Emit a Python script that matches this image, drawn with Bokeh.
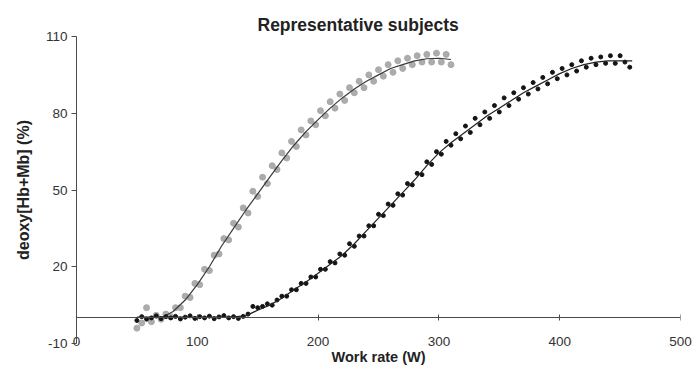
from bokeh.plotting import figure
from bokeh.models import LinearAxis, FixedTicker, Range1d, ColumnDataSource
from bokeh.embed import file_html
from bokeh.resources import INLINE

# Axis ticks
work_rate_ticks = [0, 100, 200, 300, 400, 500]
deoxy_ticks = [-10, 20, 50, 80, 110]

# Subject A (grey points) - deoxy[Hb+Mb] (%) vs work rate (W)
gray_w = [50, 54, 58, 62, 66, 70, 74, 78, 82, 86, 90, 94, 98, 102, 106, 110,
          114, 118, 122, 126, 130, 134, 138, 142, 146, 150, 154, 158, 162, 166,
          170, 174, 178, 182, 186, 190, 194, 198, 202, 206, 210, 214, 218, 222,
          226, 230, 234, 238, 242, 246, 250, 254, 258, 262, 266, 270, 274, 278,
          282, 286, 290, 294, 298, 302, 306, 310]
gray_deoxy = [-4, -2, 4, -1.5, 1, -0.5, 1.5, 0.5, 4, 4,
              8.5, 8, 13.5, 13, 19, 18.5, 24.5, 25, 31, 30.5,
              37, 35.5, 43, 41, 49.5, 47.5, 55, 52.5, 59.5, 58,
              64.5, 62.5, 69, 67, 73.5, 71.5, 77, 75.5, 81, 79,
              84.5, 82, 87.5, 85, 90, 88, 92.5, 90, 95, 92.5,
              97, 94.5, 99, 96, 100.5, 97.5, 101.5, 99, 102.5, 100,
              103, 100, 103.5, 100, 103, 99]

# Subject A fitted curve
gray_fit_w = [70, 80, 90, 100, 110, 120, 130, 140, 150, 160, 170, 180, 190,
              200, 210, 220, 230, 240, 250, 260, 270, 280, 290, 300, 310]
gray_fit = [0, 2.5, 7, 13, 20, 28, 35, 42, 48.5, 55, 61.5, 67.5, 72.8,
            77.5, 82, 86, 89.5, 92.5, 95, 97.5, 99, 100.5, 101.3, 101.5, 101]

# Subject B (black points)
black_w = [50, 54, 58, 62, 66, 70, 74, 78, 82, 86, 90, 94, 98, 102, 106, 110,
           114, 118, 122, 126, 130, 134, 138, 142, 146, 150, 154, 158, 162,
           166, 170, 174, 178, 182, 186, 190, 194, 198, 202, 206, 210, 214,
           218, 222, 226, 230, 234, 238, 242, 246, 250, 254, 258, 262, 266,
           270, 274, 278, 282, 286, 290, 294, 298, 302, 306, 310, 314, 318,
           322, 326, 330, 334, 338, 342, 346, 350, 354, 358, 362, 366, 370,
           374, 378, 382, 386, 390, 394, 398, 402, 406, 410, 414, 418, 422,
           426, 430, 434, 438, 442, 446, 450, 454, 458]
black_deoxy = [-1, 0.5, -0.5, 0, 0.8, -0.3, 0.5, 0, 0.6, -0.4,
               0.3, 0.8, -0.2, 0.5, 0, 0.7, -0.3, 0.4, 0.9, 0,
               0.5, -0.2, 0.6,
               1.5, 4.5, 4, 4.5, 5.5, 5, 7, 8.5, 8.5, 11,
               11, 13.5, 13.5, 16, 16, 19, 19, 22, 21.5, 25,
               24.5, 29, 28, 32, 32, 36, 36, 40.5, 40, 44.5,
               44, 48.5, 48, 52.5, 52, 56.5, 56, 61, 60, 65,
               64, 69, 67.5, 72, 70, 75, 72.5, 78, 75.5, 80.5,
               78, 83, 80.5, 86, 83, 88, 85.5, 90, 87.5, 92,
               89.5, 94, 91.5, 96, 93.5, 97.5, 95, 99, 96.5, 100.5,
               98, 101.5, 99, 102, 99.5, 102.5, 99.5, 102.5, 100, 98]

# Subject B fitted curve
black_fit_w = [50, 60, 70, 80, 90, 100, 110, 120, 130, 140, 150, 160, 170,
               180, 190, 200, 210, 220, 230, 240, 250, 260, 270, 280, 290,
               300, 310, 320, 330, 340, 350, 360, 370, 380, 390, 400, 410,
               420, 430, 440, 450, 460]
black_fit = [0.3, 0.3, 0.3, 0.3, 0.3, 0.3, 0.3, 0.3, 0.4, 0.8,
             3, 5, 7.7, 11, 14, 17.5, 21, 24.5, 29, 34,
             39, 44, 49, 54, 59.5, 64.5, 68.5, 72, 75.5, 79,
             82, 85, 88, 90.5, 93, 95.5, 97.5, 99, 100, 100.5,
             100.5, 100.5]

FONT = "Liberation Sans"
AXIS_COLOR = "#4a4a4a"
TEXT_COLOR = "#333333"

p = figure(width=693, height=367, output_backend="svg", toolbar_location=None,
           x_range=Range1d(0, 500), y_range=Range1d(-10, 110),
           x_axis_location=None,
           min_border_left=76, min_border_right=13,
           min_border_top=36, min_border_bottom=24)
p.outline_line_color = None
p.grid.visible = False
p.background_fill_color = "white"
p.border_fill_color = "white"

# Title
p.title.text = "Representative subjects"
p.title.align = "left"
p.title.offset = 181
p.title.standoff = 4
p.title.text_font = FONT
p.title.text_font_size = "17.5px"
p.title.text_font_style = "bold"
p.title.text_color = "#222222"

# Y axis
ya = p.yaxis[0]
ya.ticker = FixedTicker(ticks=deoxy_ticks)
ya.major_label_overrides = {-10: "-10"}
ya.minor_tick_line_color = None
ya.major_tick_out = 5
ya.major_tick_in = 0
ya.major_label_standoff = 4
ya.axis_line_color = AXIS_COLOR
ya.major_tick_line_color = AXIS_COLOR
ya.major_label_text_font = FONT
ya.major_label_text_font_size = "13.5px"
ya.major_label_text_color = TEXT_COLOR
ya.axis_label = "deoxy[Hb+Mb] (%)"
ya.axis_label_text_font = FONT
ya.axis_label_text_font_size = "16px"
ya.axis_label_text_font_style = "bold"
ya.axis_label_text_color = "#222222"
ya.axis_label_standoff = 11

# X axis labels along the bottom of the frame
xlab = LinearAxis(ticker=FixedTicker(ticks=work_rate_ticks),
                  axis_label="Work rate (W)")
xlab.axis_line_color = None
xlab.major_tick_line_color = None
xlab.minor_tick_line_color = None
xlab.major_tick_out = 0
xlab.major_tick_in = 0
xlab.major_label_standoff = -7
xlab.major_label_text_font = FONT
xlab.major_label_text_font_size = "13.5px"
xlab.major_label_text_color = TEXT_COLOR
xlab.axis_label_text_font = FONT
xlab.axis_label_text_font_size = "14.5px"
xlab.axis_label_text_font_style = "bold"
xlab.axis_label_text_color = "#222222"
xlab.axis_label_standoff = 0
p.add_layout(xlab, "below")

# X axis line crossing at zero (line and ticks only)
xline = LinearAxis(ticker=FixedTicker(ticks=work_rate_ticks), fixed_location=0)
xline.axis_line_color = AXIS_COLOR
xline.major_tick_line_color = AXIS_COLOR
xline.minor_tick_line_color = None
xline.major_tick_in = 3
xline.major_tick_out = 3
xline.major_label_text_color = None
p.add_layout(xline, "below")

src_a = ColumnDataSource(dict(w=gray_w, d=gray_deoxy))
src_b = ColumnDataSource(dict(w=black_w, d=black_deoxy))

p.scatter("w", "d", source=src_a, size=6, color="#a8a8a8", alpha=0.95)
p.line(gray_fit_w, gray_fit, line_color="#3a3a3a", line_width=1.2)

p.scatter("w", "d", source=src_b, size=4, color="#141414")
p.line(black_fit_w, black_fit, line_color="#222222", line_width=1.2)

open("out.html", "w").write(file_html(p, INLINE))
